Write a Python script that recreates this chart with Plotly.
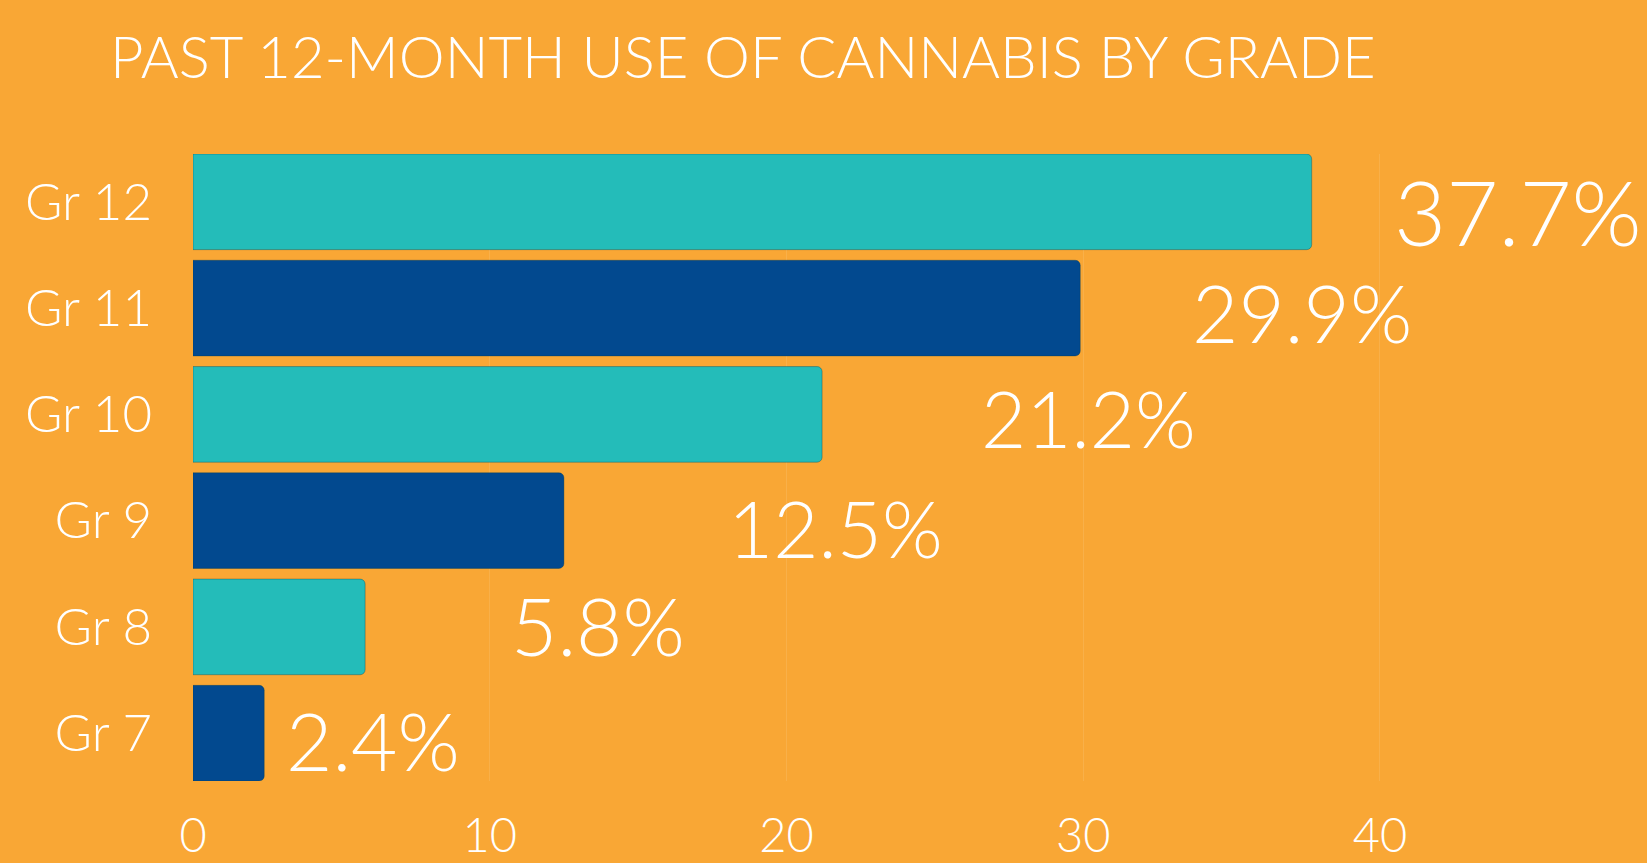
import plotly.graph_objects as go

grades = ["Gr 12", "Gr 11", "Gr 10", "Gr 9", "Gr 8", "Gr 7"]
values = [37.7, 29.9, 21.2, 12.5, 5.8, 2.4]
value_labels = ["37.7%", "29.9%", "21.2%", "12.5%", "5.8%", "2.4%"]
x_ticks = [0, 10, 20, 30, 40]

bar_colors = ["#24BCB9", "#02498F", "#24BCB9", "#02498F", "#24BCB9", "#02498F"]
# label placement (offsets in data units from bar end, shifts in px)
label_offsets = [2.7, 3.7, 5.3, 5.45, 4.85, 0.65]
label_yshifts = [-9, -4, -4, -7, 2, -7]
label_sizes = [90, 80, 78, 78, 80, 80]

BG = "#F9A735"
FONT = "Lato"

fig = go.Figure()
fig.add_trace(go.Bar(
    x=values, y=grades, orientation="h",
    marker=dict(color=bar_colors, line=dict(color="rgba(0,60,80,0.35)", width=1), cornerradius=5),
    hoverinfo="skip",
))

for g, v, t, off, ys, sz in zip(grades, values, value_labels, label_offsets, label_yshifts, label_sizes):
    fig.add_annotation(x=v + off, y=g, text=t, showarrow=False, xanchor="left", yanchor="middle",
                       yshift=ys, font=dict(family=FONT, size=sz, color="white", weight=300))

fig.update_layout(
    width=1647, height=863,
    margin=dict(l=193, r=0, t=154, b=82),
    paper_bgcolor=BG, plot_bgcolor=BG,
    bargap=0.1,
    showlegend=False,
    title=dict(text="PAST 12-MONTH USE OF CANNABIS BY GRADE", x=110/1647, xanchor="left",
               y=1 - 58/863, yanchor="middle",
               font=dict(family=FONT, size=58, color="white", weight=300)),
    xaxis=dict(range=[0, 49], tickvals=x_ticks, showgrid=True, gridcolor="rgba(255,255,255,0.10)",
               gridwidth=1, zeroline=False, showline=False, ticks="", automargin=False,
               tickfont=dict(family=FONT, size=47, color="white", weight=300), ticklabelstandoff=23),
    yaxis=dict(categoryorder="array", categoryarray=grades[::-1], range=[-0.45, 5.45],
               showgrid=False, zeroline=False, showline=False, ticks="", automargin=False,
               tickfont=dict(family=FONT, size=51, color="white", weight=300), ticklabelstandoff=40),
)

fig.write_html("out.html")
